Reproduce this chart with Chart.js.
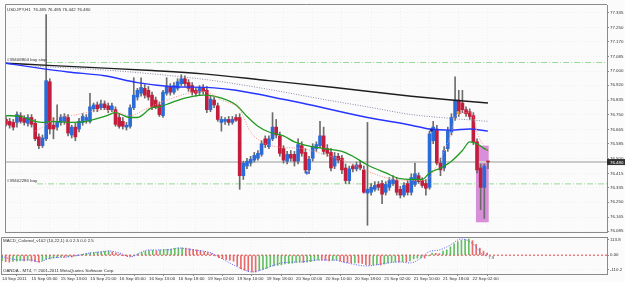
<!DOCTYPE html>
<html><head><meta charset="utf-8">
<script src="https://cdn.jsdelivr.net/npm/chart.js@4.4.0/dist/chart.umd.min.js"></script>
<style>
html,body{margin:0;padding:0;background:#fcfbfc;}
#wrap{position:relative;width:625px;height:282px;overflow:hidden;background:#fcfbfc;}
#c1{position:absolute;left:0;top:0;}
#c2{position:absolute;left:0;top:237px;}
</style></head><body>
<div id="wrap"><canvas id="c1" width="625" height="237"></canvas><canvas id="c2" width="625" height="45"></canvas></div>
<script>
// ---------- DATA ----------
const symbolTitle = "USDJPY,H1  76.485 76.485 76.442 76.480";
const macdTitle = "MACD_Colored_v102 (10,22,1) 0.0 2.5 0.0 2.5";
const brokerText = "OANDA - MT4, \u00a9 2001-2011 MetaQuotes Software Corp.";
const macdValueText = "7.9";

const timeLabels = ["14 Sep 2011","15 Sep 05:00","15 Sep 13:00","15 Sep 21:00","16 Sep 05:00","16 Sep 13:00","16 Sep 18:00","19 Sep 02:00","19 Sep 10:00","19 Sep 18:00","20 Sep 02:00","20 Sep 10:00","20 Sep 18:00","21 Sep 02:00","21 Sep 10:00","21 Sep 18:00","22 Sep 02:00"];
const barsPerTimeLabel = 8;
const priceTicks = [77.335,77.250,77.170,77.085,77.000,76.920,76.835,76.750,76.665,76.585,76.500,76.415,76.335,76.250,76.165,76.085];
const macdTicks = [113.8, 0, -110.2];
const macdTickLabels = ["113.8","0.00","-110.2"];

const opens = [76.724,76.713,76.707,76.707,76.746,76.730,76.702,76.735,76.702,76.624,76.574,76.613,76.940,76.691,76.680,76.707,76.713,76.735,76.635,76.680,76.669,76.707,76.719,76.713,76.785,76.807,76.791,76.813,76.802,76.780,76.780,76.735,76.713,76.680,76.685,76.791,76.852,76.874,76.902,76.891,76.863,76.835,76.807,76.746,76.874,76.913,76.880,76.902,76.929,76.957,76.935,76.918,76.891,76.880,76.907,76.891,76.780,76.835,76.802,76.707,76.713,76.724,76.707,76.735,76.735,76.402,76.457,76.474,76.491,76.502,76.524,76.613,76.568,76.613,76.680,76.630,76.557,76.485,76.524,76.524,76.485,76.574,76.535,76.435,76.502,76.557,76.574,76.630,76.557,76.535,76.457,76.513,76.502,76.446,76.374,76.457,76.441,76.463,76.435,76.302,76.307,76.324,76.352,76.357,76.307,76.335,76.357,76.374,76.324,76.291,76.357,76.307,76.352,76.402,76.374,76.357,76.335,76.602,76.669,76.474,76.446,76.557,76.652,76.735,76.835,76.818,76.780,76.768,76.746,76.596,76.446,76.335,76.485];
const highs = [76.741,76.730,76.724,76.768,76.763,76.746,76.752,76.752,76.724,76.641,76.635,77.324,76.957,76.735,76.807,76.752,76.757,76.752,76.691,76.702,76.730,76.757,76.752,76.874,76.818,76.824,76.835,76.830,76.818,76.818,76.796,76.757,76.735,76.707,76.807,76.963,76.902,76.963,76.924,76.913,76.880,76.852,76.824,76.891,76.963,76.929,76.935,76.957,76.980,76.974,76.952,76.935,76.907,76.918,76.924,76.913,76.857,76.852,76.818,76.741,76.735,76.741,76.741,76.752,76.757,76.485,76.502,76.513,76.535,76.546,76.602,76.630,76.630,76.763,76.724,76.652,76.574,76.541,76.546,76.541,76.613,76.596,76.557,76.513,76.585,76.596,76.713,76.680,76.580,76.557,76.535,76.530,76.518,76.469,76.457,76.469,76.480,76.485,76.457,76.707,76.357,76.368,76.368,76.374,76.368,76.391,76.402,76.391,76.341,76.363,76.374,76.413,76.474,76.418,76.391,76.380,76.657,76.713,76.691,76.502,76.568,76.680,76.757,76.968,76.891,76.891,76.796,76.785,76.763,76.613,76.469,76.469,76.485];
const lows = [76.685,76.674,76.663,76.680,76.702,76.691,76.685,76.680,76.602,76.557,76.563,76.602,76.641,76.613,76.663,76.691,76.696,76.630,76.618,76.602,76.652,76.691,76.702,76.702,76.768,76.768,76.780,76.780,76.763,76.768,76.685,76.674,76.669,76.663,76.674,76.780,76.835,76.857,76.846,76.835,76.780,76.785,76.741,76.735,76.863,76.863,76.869,76.891,76.918,76.913,76.885,76.863,76.857,76.863,76.869,76.763,76.768,76.791,76.713,76.657,76.696,76.691,76.696,76.713,76.324,76.380,76.442,76.457,76.480,76.491,76.513,76.563,76.557,76.602,76.618,76.513,76.474,76.469,76.485,76.457,76.469,76.513,76.418,76.413,76.485,76.541,76.563,76.524,76.513,76.429,76.442,76.474,76.413,76.357,76.357,76.424,76.429,76.435,76.302,76.118,76.291,76.313,76.318,76.241,76.291,76.318,76.346,76.291,76.274,76.280,76.291,76.291,76.341,76.357,76.335,76.291,76.324,76.585,76.463,76.402,76.429,76.541,76.635,76.719,76.741,76.763,76.741,76.724,76.580,76.418,76.207,76.157,76.442];
const closes = [76.696,76.691,76.680,76.752,76.713,76.707,76.735,76.696,76.613,76.574,76.618,76.946,76.669,76.669,76.713,76.735,76.741,76.646,76.680,76.624,76.713,76.741,76.735,76.796,76.807,76.785,76.813,76.791,76.780,76.802,76.696,76.685,76.685,76.691,76.791,76.863,76.891,76.907,76.863,76.852,76.796,76.796,76.752,76.880,76.913,76.880,76.918,76.940,76.957,76.929,76.902,76.880,76.874,76.902,76.885,76.780,76.841,76.807,76.724,76.724,76.724,76.707,76.724,76.719,76.402,76.474,76.485,76.496,76.518,76.530,76.585,76.580,76.613,76.680,76.635,76.530,76.491,76.524,76.502,76.485,76.580,76.530,76.435,76.496,76.568,76.580,76.630,76.541,76.530,76.446,76.513,76.491,76.435,76.374,76.441,76.441,76.463,76.446,76.307,76.324,76.335,76.346,76.335,76.296,76.352,76.374,76.380,76.307,76.291,76.346,76.307,76.391,76.413,76.368,76.346,76.330,76.641,76.680,76.474,76.435,76.546,76.657,76.735,76.835,76.757,76.780,76.757,76.741,76.596,76.435,76.335,76.457,76.480];

// moving averages: [bar, price]
const maBlack = [[0,77.046],[13,77.032],[27,77.018],[40,77.004],[54,76.985],[72,76.946],[90,76.907],[111,76.857],[122,76.835],[132,76.818]];
const maBlue = [[0,77.046],[9,77.018],[17,76.996],[27,76.974],[36,76.935],[45,76.913],[57,76.905],[63,76.891],[77,76.835],[81,76.818],[99,76.735],[111,76.691],[116,76.669],[122,76.663],[127,76.669],[132,76.657]];
const maGray = [[8,77.029],[27,77.007],[40,76.985],[57,76.946],[72,76.896],[88,76.835],[99,76.796],[111,76.752],[122,76.730],[132,76.713]];
const maGreen = [[0,76.746],[4,76.741],[8,76.713],[10,76.707],[13,76.713],[18,76.707],[22,76.713],[27,76.741],[30,76.763],[34,76.735],[36,76.735],[40,76.791],[42,76.796],[45,76.818],[49,76.846],[54,76.863],[57,76.857],[63,76.807],[66,76.741],[69,76.685],[72,76.652],[76,76.630],[79,76.596],[84,76.568],[87,76.557],[92,76.541],[95,76.513],[99,76.463],[104,76.418],[108,76.385],[114,76.380],[116,76.418],[119,76.446],[122,76.485],[125,76.546],[127,76.596],[129,76.585],[131,76.557],[132,76.546]];
const maSalmon = [[8,76.657],[10,76.680],[14,76.735],[18,76.746],[23,76.768],[27,76.780],[30,76.768],[34,76.746],[38,76.780],[44,76.835],[54,76.885],[59,76.835],[64,76.780],[67,76.652],[70,76.596],[74,76.568],[81,76.557],[88,76.518],[93,76.485],[97,76.446],[104,76.391],[111,76.374],[115,76.374],[118,76.463],[120,76.541],[122,76.652],[123,76.741],[127,76.763],[128,76.741],[129,76.652],[131,76.568],[132,76.541]];

const orderLines = [{label:"#39408804 buy stop", price:77.050, fromBar:11},{label:"#39402286 buy", price:76.355, fromBar:8.5}];
const zone = {fromBar:128.7, toBar:132.2, high:76.574, low:76.135};
const tradeMarks = [[82.4,76.418],[116.5,76.663],[123.8,76.763]];

const macdHist = [-42,-48,-52,-47,-44,-40,-42,-38,-44,-48,-52,-40,-32,-28,-22,-18,-14,-16,-12,-14,-6,0,6,14,18,20,24,26,28,32,24,16,8,-2,-8,-10,-2,10,20,28,34,36,33,38,42,44,46,50,53,55,52,48,44,40,35,24,20,12,-5,-18,-25,-33,-38,-45,-80,-100,-112,-120,-124,-125,-115,-108,-98,-85,-80,-76,-72,-66,-62,-60,-54,-52,-55,-53,-48,-42,-35,-37,-38,-42,-38,-36,-42,-52,-56,-58,-57,-58,-62,-70,-74,-72,-70,-73,-66,-58,-52,-50,-52,-48,-50,-42,-28,-22,-20,-22,-5,16,14,12,30,40,62,85,100,110,116,120,108,80,52,30,16];
const macdSignal = [[0,-13],[5,-36],[8,-36],[10,-50],[13,-22],[18,-13],[21,1],[24,16],[27,24],[29,31],[32,16],[35,-13],[38,24],[40,39],[45,39],[48,53],[52,39],[57,16],[59,-13],[63,-73],[66,-110],[68,-125],[72,-95],[76,-58],[81,-50],[86,-36],[90,-36],[94,-58],[99,-80],[105,-58],[108,-50],[111,-58],[114,-21],[116,24],[119,39],[122,76],[124,113],[125,120],[127,105],[129,61],[130,24],[131,1],[132,-6]];

// ---------- STYLE ----------
const FAM = "'Liberation Sans', Arial, sans-serif";
const FS = 4.4;
const FONT = {family: FAM, size: FS};
const TXT = '#333333';
const BULL = '#2a6bd8', BEAR = '#c21d3d';
const xMin = -0.27, xMax = 164.6;
const GRID = 'rgba(200,200,205,0.22)';
const FRAME = '#8a8a8a';

const timeTickValues = timeLabels.map((t, i) => i * barsPerTimeLabel);
const bars = closes.map((c, i) => i);
const lastClose = closes[closes.length - 1];

function xScale(showLabels) {
  return {
    type: 'linear', min: xMin, max: xMax, offset: false,
    afterBuildTicks: s => { s.ticks = timeTickValues.map(v => ({value: v})); },
    afterFit: s => { s.height = showLabels ? 8 : 0; s.paddingLeft = 0; s.paddingRight = 0; },
    ticks: {display: showLabels, autoSkip: false, maxRotation: 0, minRotation: 0, align: 'start', padding: 0,
      font: FONT, color: TXT, callback: (v, i) => timeLabels[i]},
    grid: {color: GRID, drawTicks: showLabels, tickLength: 2, tickColor: FRAME},
    border: {display: true, color: FRAME, dash: [1, 2]}
  };
}

Chart.defaults.font.family = FAM;

const plugA = {
  id: 'plugA',
  beforeDatasetsDraw(chart) {
    const {ctx, scales: {x, y}} = chart;
    const x1 = x.getPixelForValue(zone.fromBar), x2 = x.getPixelForValue(zone.toBar);
    const y1 = y.getPixelForValue(zone.high), y2 = y.getPixelForValue(zone.low);
    ctx.save();
    ctx.fillStyle = '#d98ed9';
    ctx.fillRect(x1, y1, x2 - x1, y2 - y1);
    ctx.restore();
  },
  afterDraw(chart) {
    const {ctx, chartArea: a, scales: {y}} = chart;
    ctx.save();
    ctx.strokeStyle = FRAME; ctx.lineWidth = 1;
    ctx.beginPath();
    ctx.moveTo(a.left + 0.5, a.bottom); ctx.lineTo(a.left + 0.5, a.top - 0.5); ctx.lineTo(a.right, a.top - 0.5);
    ctx.stroke();
    ctx.font = FS + 'px ' + FAM;
    ctx.fillStyle = TXT; ctx.textAlign = 'left'; ctx.textBaseline = 'top';
    ctx.fillText(symbolTitle, a.left + 2, a.top + 2.5);
    ctx.textBaseline = 'bottom';
    orderLines.forEach(o => ctx.fillText(o.label, a.left + 2, y.getPixelForValue(o.price) - 0.8));
    const py = y.getPixelForValue(lastClose);
    ctx.fillStyle = '#303030';
    ctx.fillRect(a.right, py - 3, chart.width - a.right, 6);
    ctx.fillStyle = '#ffffff'; ctx.textBaseline = 'middle';
    ctx.fillText(lastClose.toFixed(3), a.right + 3, py + 0.3);
    ctx.restore();
  }
};

new Chart(document.getElementById('c1'), {
  type: 'bar',
  data: {
    datasets: [
      {type: 'scatter', label: 'marks', data: tradeMarks.map(p => ({x: p[0], y: p[1]})),
        pointStyle: ['cross', 'circle', 'rect'], pointRadius: [2, 1.2, 1.3],
        borderColor: ['#2050e0', '#1a2a9a', '#f0a030'], backgroundColor: ['#2050e0', '#1a2a9a', '#f0a030'], borderWidth: 1, order: 1},
      {type: 'line', label: 'salmon', data: maSalmon.map(p => ({x: p[0], y: p[1]})), borderColor: '#f29484', borderWidth: 1,
        borderDash: [1, 1.5], pointRadius: 0, cubicInterpolationMode: 'monotone', order: 4},
      {type: 'line', label: 'green', data: maGreen.map(p => ({x: p[0], y: p[1]})), borderColor: '#1f9a1f', borderWidth: 1.3,
        pointRadius: 0, cubicInterpolationMode: 'monotone', order: 4},
      {type: 'line', label: 'gray', data: maGray.map(p => ({x: p[0], y: p[1]})), borderColor: '#8a88a8', borderWidth: 1,
        borderDash: [1, 1.5], pointRadius: 0, cubicInterpolationMode: 'monotone', order: 5},
      {type: 'line', label: 'blue', data: maBlue.map(p => ({x: p[0], y: p[1]})), borderColor: '#2535ff', borderWidth: 1.4,
        pointRadius: 0, cubicInterpolationMode: 'monotone', order: 5},
      {type: 'line', label: 'black', data: maBlack.map(p => ({x: p[0], y: p[1]})), borderColor: '#1e1e1e', borderWidth: 1.4,
        pointRadius: 0, cubicInterpolationMode: 'monotone', order: 5},
      {type: 'bar', label: 'bodies', data: bars.map(i => ({x: i, y: [opens[i], closes[i]]})),
        backgroundColor: bars.map(i => closes[i] >= opens[i] ? BULL : BEAR), barThickness: 3, grouped: false, minBarLength: 1, order: 8},
      {type: 'bar', label: 'wicks', data: bars.map(i => ({x: i, y: [lows[i], highs[i]]})),
        backgroundColor: '#6c6c6c', barThickness: 1, grouped: false, order: 9},
      ...orderLines.map(o => ({type: 'line', label: o.label, data: [{x: o.fromBar, y: o.price}, {x: xMax, y: o.price}],
        borderColor: '#96d996', borderWidth: 1, borderDash: [6, 2, 1, 2], pointRadius: 0, order: 12})),
      {type: 'line', label: 'bid', data: [{x: xMin, y: lastClose}, {x: xMax, y: lastClose}], borderColor: '#cbcbcb', borderWidth: 2, pointRadius: 0, order: 13}
    ]
  },
  options: {
    responsive: false, animation: false, devicePixelRatio: 1,
    layout: {padding: {left: 1, top: 2, right: 0, bottom: 1}},
    plugins: {legend: {display: false}, tooltip: {enabled: false}},
    scales: {
      x: xScale(false),
      y: {
        type: 'linear', position: 'right', min: 76.0794, max: 77.3794,
        afterBuildTicks: s => { s.ticks = priceTicks.map(v => ({value: v})); },
        afterFit: s => { s.width = 18; s.paddingTop = 0; s.paddingBottom = 0; },
        ticks: {font: FONT, color: TXT, padding: 1, autoSkip: false, callback: (v, i) => priceTicks[i].toFixed(3)},
        grid: {color: GRID, tickLength: 2, tickColor: FRAME},
        border: {display: true, color: FRAME, dash: [1, 2]}
      }
    }
  },
  plugins: [plugA]
});

const plugB = {
  id: 'plugB',
  afterDraw(chart) {
    const {ctx, chartArea: a, scales: {x, y}} = chart;
    ctx.save();
    ctx.strokeStyle = FRAME; ctx.lineWidth = 1;
    ctx.beginPath();
    ctx.moveTo(a.left + 0.5, a.bottom); ctx.lineTo(a.left + 0.5, a.top + 0.5); ctx.lineTo(a.right, a.top + 0.5);
    ctx.stroke();
    ctx.font = FS + 'px ' + FAM;
    ctx.fillStyle = TXT; ctx.textAlign = 'left'; ctx.textBaseline = 'top';
    ctx.fillText(macdTitle, a.left + 2, a.top + 2);
    ctx.textBaseline = 'bottom';
    ctx.fillText(brokerText, a.left + 2, a.bottom - 1.5);
    ctx.fillStyle = '#555';
    ctx.textBaseline = 'top';
    ctx.fillText(macdValueText, x.getPixelForValue(bars.length - 1) + 1, y.getPixelForValue(0) + 0.5);
    ctx.restore();
  }
};

new Chart(document.getElementById('c2'), {
  type: 'bar',
  data: {
    datasets: [
      {type: 'line', label: 'signal', data: macdSignal.map(p => ({x: p[0], y: p[1]})), borderColor: '#5a5aff', borderWidth: 1,
        borderDash: [1, 1.5], pointRadius: 0, cubicInterpolationMode: 'monotone', order: 1},
      {type: 'bar', label: 'hist', data: bars.map(i => ({x: i, y: macdHist[i]})),
        backgroundColor: bars.map(i => (i === 0 || macdHist[i] >= macdHist[i - 1]) ? 'rgba(60,175,60,0.8)' : 'rgba(228,70,70,0.8)'), barThickness: 1, grouped: false, order: 5},
      {type: 'line', label: 'zero', data: [{x: xMin, y: 0}, {x: xMax, y: 0}], borderColor: '#e04545', borderWidth: 1, borderDash: [2, 2], pointRadius: 0, order: 8}
    ]
  },
  options: {
    responsive: false, animation: false, devicePixelRatio: 1,
    layout: {padding: {left: 1, top: 0, right: 0, bottom: 0}},
    plugins: {legend: {display: false}, tooltip: {enabled: false}},
    scales: {
      x: xScale(true),
      y: {
        type: 'linear', position: 'right', min: -140, max: 135,
        afterBuildTicks: s => { s.ticks = macdTicks.map(v => ({value: v})); },
        afterFit: s => { s.width = 18; s.paddingTop = 0; s.paddingBottom = 0; },
        ticks: {font: FONT, color: TXT, padding: 1, autoSkip: false, callback: (v, i) => macdTickLabels[i]},
        grid: {color: GRID, tickLength: 2, tickColor: FRAME},
        border: {display: true, color: FRAME, dash: [1, 2]}
      }
    }
  },
  plugins: [plugB]
});
</script>
</body></html>
